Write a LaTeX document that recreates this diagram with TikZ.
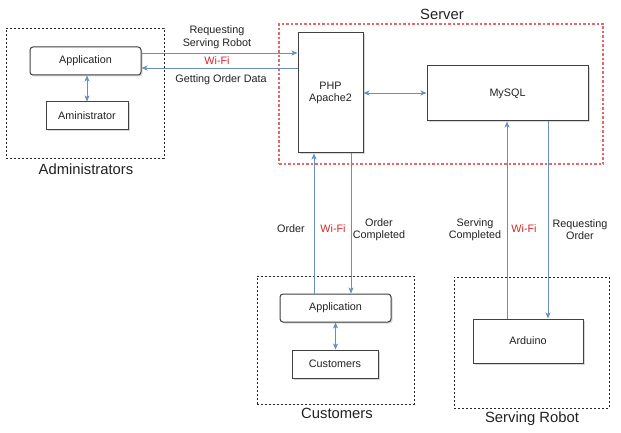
\documentclass[tikz,border=0pt]{standalone}
\usepackage{fontspec}
\setmainfont{Liberation Sans}
\usetikzlibrary{arrows.meta,shadows,calc}
\definecolor{arrblue}{HTML}{6C8EBF}
\definecolor{wifired}{HTML}{D62828}
\definecolor{srvred}{HTML}{E8666A}
\definecolor{txt}{HTML}{222222}
\begin{document}
\begin{tikzpicture}[x=1pt,y=-1pt,
  every node/.style={text=txt,font=\fontsize{10.8}{12.5}\selectfont,inner sep=0pt},
  grpbox/.style={draw=black!85,dash pattern=on 2.2pt off 1.8pt,line width=0.8pt},
  srvbox/.style={draw=srvred,dash pattern=on 2.5pt off 2pt,line width=1.1pt},
  blk/.style={draw=black!75,line width=1pt,fill=white,
    drop shadow={shadow xshift=1.5pt,shadow yshift=-1.5pt,fill=black!30,opacity=0.5}},
  rblk/.style={blk,rounded corners=3pt},
  grplabel/.style={font=\fontsize{14.8}{17}\selectfont},
  lbl/.style={align=center},
  wifi/.style={text=wifired},
  arr/.style={draw=arrblue,line width=0.8pt,-{Stealth[length=6pt,width=5pt,inset=1.5pt]}},
  darr/.style={draw=arrblue,line width=0.8pt,{Stealth[length=6pt,width=5pt,inset=1.5pt]}-{Stealth[length=6pt,width=5pt,inset=1.5pt]}}]
\useasboundingbox (0,0) rectangle (621,433);
\fill[white] (0,0) rectangle (621,433);

% group boxes
\node[grpbox,minimum width=158pt,minimum height=130pt] (adminbox) at (85,93) {};
\node[grplabel] (adminlbl) at (86,169) {Administrators};
\node[srvbox,minimum width=324pt,minimum height=140pt] (srvbox) at (441,94) {};
\node[grplabel] (srvlbl) at (442,14) {Server};
\node[grpbox,minimum width=157pt,minimum height=128pt] (custbox) at (335.5,340) {};
\node[grplabel] (custlbl) at (337,413) {Customers};
\node[grpbox,minimum width=155pt,minimum height=131pt] (robotbox) at (531.5,342.5) {};
\node[grplabel] (robotlbl) at (532,419) {Serving Robot};

% blocks
\node[rblk,minimum width=111pt,minimum height=28pt] (appA) at (85.5,61) {Application};
\node[blk,minimum width=82pt,minimum height=28pt] (amin) at (87,116) {Aministrator};
\node[blk,minimum width=65pt,minimum height=120pt,align=center] (php) at (330.5,93) {PHP\\Apache2};
\node[blk,minimum width=161pt,minimum height=55pt] (mysql) at (507.5,93.5) {MySQL};
\node[rblk,minimum width=111pt,minimum height=28pt] (appC) at (335.5,308) {Application};
\node[blk,minimum width=86pt,minimum height=28pt] (cust) at (335,364) {Customers};
\node[blk,minimum width=110pt,minimum height=44pt] (ard) at (528,341) {Arduino};

% connectors
\draw[darr] (appA.south -| amin.north) -- (amin.north);
\draw[arr] ([yshift=8pt]appA.east) -- ([yshift=8pt]appA.east -| php.west);
\draw[arr] ([yshift=-7pt]appA.east -| php.west) -- ([yshift=-7pt]appA.east);
\draw[darr] (php.east) -- (php.east -| mysql.west);
\draw[arr] ([xshift=-16.5pt]php.south |- appC.north) -- ([xshift=-16.5pt]php.south);
\draw[arr] ([xshift=20.5pt]php.south) -- ([xshift=20.5pt]php.south |- appC.north);
\draw[darr] (appC.south) -- (appC.south |- cust.north);
\draw[arr] ([xshift=-0.5pt]mysql.south |- ard.north) -- ([xshift=-0.5pt]mysql.south);
\draw[arr] ([xshift=40.5pt]mysql.south) -- ([xshift=40.5pt]mysql.south |- ard.north);

% labels
\node[lbl] (l1) at (217,37) {Requesting\\Serving Robot};
\node[wifi] (w1) at (217,61) {Wi-Fi};
\node[lbl] (l2) at (221,80) {Getting Order Data};
\node[lbl] (l3) at (291,229) {Order};
\node[wifi] (w2) at (333,229) {Wi-Fi};
\node[lbl] (l4) at (379,229.5) {Order\\Completed};
\node[lbl] (l5) at (475,229.5) {Serving\\Completed};
\node[wifi] (w3) at (524,229) {Wi-Fi};
\node[lbl] (l6) at (580,229.5) {Requesting\\Order};
\end{tikzpicture}
\end{document}
